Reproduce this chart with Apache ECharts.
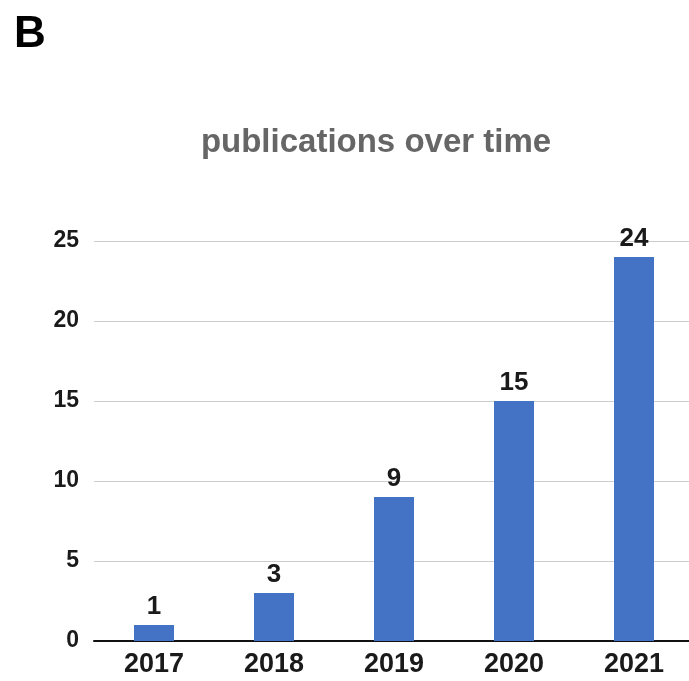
<!DOCTYPE html>
<html>
<head>
<meta charset="utf-8">
<script src="https://cdn.jsdelivr.net/npm/echarts@6/dist/echarts.min.js"></script>
<style>
html,body{margin:0;padding:0;background:#fff;overflow:hidden;}
#chart{width:694px;height:681px;}
</style>
</head>
<body>
<div id="chart"></div>
<script>
const years = ['2017', '2018', '2019', '2020', '2021'];
const publications = [1, 3, 9, 15, 24];
const yTicks = [0, 5, 10, 15, 20, 25];

const chart = echarts.init(document.getElementById('chart'), null, {renderer: 'canvas'});
const font = "'Liberation Sans', Arial, sans-serif";
chart.setOption({
  animation: false,
  backgroundColor: '#ffffff',
  title: [
    {
      text: 'publications over time',
      left: 371, top: 121, textAlign: 'center',
      textStyle: {fontFamily: font, fontSize: 33, fontWeight: 'bold', color: '#666666'}
    },
    {
      text: 'B',
      left: 9, top: 8,
      textStyle: {fontFamily: font, fontSize: 44, fontWeight: 'bold', color: '#000000'}
    }
  ],
  grid: {left: 94, top: 241, right: 0, height: 400, containLabel: false},
  xAxis: {
    type: 'category',
    data: years,
    axisLine: {show: true, lineStyle: {color: '#111', width: 2}},
    axisTick: {show: false},
    axisLabel: {fontFamily: font, fontSize: 27, fontWeight: 'bold', color: '#1a1a1a', margin: 10}
  },
  yAxis: {
    type: 'value',
    min: yTicks[0], max: yTicks[yTicks.length - 1], interval: 5,
    axisLine: {show: false},
    axisTick: {show: false},
    splitLine: {lineStyle: {color: '#cccccc', width: 1}},
    axisLabel: {fontFamily: font, fontSize: 23, fontWeight: 'bold', color: '#1a1a1a', margin: 15}
  },
  series: [{
    type: 'bar',
    data: publications,
    barWidth: 40,
    itemStyle: {color: '#4472C4'},
    label: {show: true, position: 'top', distance: 5, fontFamily: font, fontSize: 26, fontWeight: 'bold', color: '#1a1a1a'}
  }]
});
</script>
</body>
</html>
